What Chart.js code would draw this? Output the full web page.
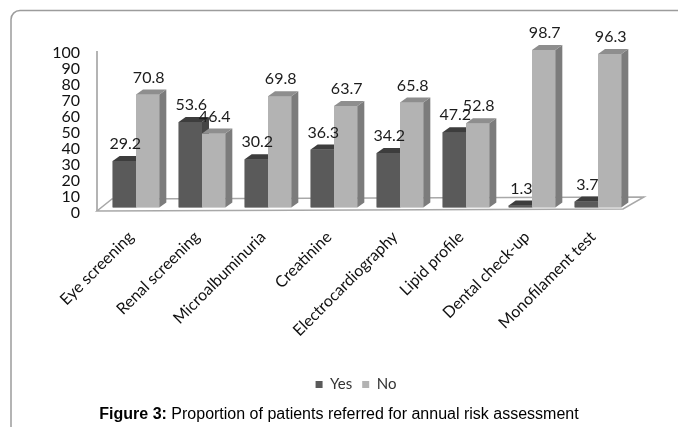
<!DOCTYPE html>
<html>
<head>
<meta charset="utf-8">
<script src="https://cdn.jsdelivr.net/npm/chart.js@4"></script>
<style>
  html, body { margin: 0; padding: 0; background: #fff; }
  #wrap { position: relative; width: 678px; height: 427px; overflow: hidden; }
  #chart { position: absolute; left: 0; top: 0; }
  #caption {
    position: absolute; left: 0; width: 678px; top: 405px;
    text-align: center; font-family: "Liberation Sans", Arial, sans-serif;
    font-size: 16px; color: #000; white-space: nowrap;
  }
</style>
</head>
<body>
<div id="wrap">
  <canvas id="chart" width="678" height="427"></canvas>
  <div id="caption"><b>Figure 3:</b> Proportion of patients referred for annual risk assessment</div>
</div>
<script>
// Annual risk assessment referrals (%)
const categories = ["Eye screening", "Renal screening", "Microalbuminuria", "Creatinine",
                    "Electrocardiography", "Lipid profile", "Dental check-up", "Monofilament test"];
const yesValues = [29.2, 53.6, 30.2, 36.3, 34.2, 47.2, 1.3, 3.7];
const noValues  = [70.8, 46.4, 69.8, 63.7, 65.8, 52.8, 98.7, 96.3];
const yTicks = [0, 10, 20, 30, 40, 50, 60, 70, 80, 90, 100];

// Column depth for the pseudo-3D faces
const DX = 7, DY = -5;
const faceColors = {
  Yes: { front: "#5a5a5a", top: "#3d3d3d", side: "#454545" },
  No:  { front: "#b3b3b3", top: "#8e8e8e", side: "#7c7c7c" }
};

// Rounded frame around the figure
const framePlugin = {
  id: "frame",
  beforeDraw(chart) {
    const ctx = chart.ctx;
    ctx.save();
    ctx.strokeStyle = "#9c9c9c";
    ctx.lineWidth = 1.5;
    ctx.beginPath();
    ctx.roundRect(11, 10.5, 720, 460, 9);
    ctx.stroke();
    ctx.restore();
  }
};

// Centre the legend under the plotted columns rather than the whole canvas
const legendShiftPlugin = {
  id: "legendShift",
  afterLayout(chart) {
    if (chart.legend) chart.legend.left += chart.chartArea.left - 32;
  }
};

// Back wall edge and floor slab
const floorPlugin = {
  id: "floor",
  beforeDatasetsDraw(chart) {
    const { ctx, chartArea: a } = chart;
    const y0 = chart.scales.y.getPixelForValue(0);
    const yTop = chart.scales.y.getPixelForValue(100);
    ctx.save();
    ctx.strokeStyle = "#b4b4b4";
    ctx.lineWidth = 2;
    ctx.beginPath();
    ctx.moveTo(a.left - 6, yTop + 3);
    ctx.lineTo(a.left - 6, y0 + 3.5);
    ctx.stroke();
    ctx.fillStyle = "#ffffff";
    ctx.strokeStyle = "#a8a8a8";
    ctx.lineWidth = 1.5;
    ctx.beginPath();
    ctx.moveTo(a.left - 6, y0 + 3.5);
    ctx.lineTo(a.right - 8, y0 + 1.5);
    ctx.lineTo(a.right + 13, y0 - 10.5);
    ctx.lineTo(a.left + 9, y0 - 8.5);
    ctx.closePath();
    ctx.fill();
    ctx.stroke();
    ctx.restore();
  }
};

// Columns drawn as boxes, category by category, left bar before right bar
const columnFacesPlugin = {
  id: "columnFaces",
  afterDatasetsDraw(chart) {
    const ctx = chart.ctx;
    const metas = chart.data.datasets.map((ds, i) => chart.getDatasetMeta(i));
    ctx.save();
    categories.forEach((c, j) => {
      metas.forEach((meta, i) => {
        const col = faceColors[chart.data.datasets[i].label];
        const { x, y, base, width } = meta.data[j].getProps(["x", "y", "base", "width"], true);
        const l = x - width / 2, r = x + width / 2;
        ctx.fillStyle = col.front;
        ctx.fillRect(l, y, width, base - y);
        ctx.fillStyle = col.side;
        ctx.beginPath();
        ctx.moveTo(r, y);
        ctx.lineTo(r + DX, y + DY);
        ctx.lineTo(r + DX, base + DY);
        ctx.lineTo(r, base);
        ctx.closePath();
        ctx.fill();
        ctx.fillStyle = col.top;
        ctx.beginPath();
        ctx.moveTo(l, y);
        ctx.lineTo(r, y);
        ctx.lineTo(r + DX, y + DY);
        ctx.lineTo(l + DX, y + DY);
        ctx.closePath();
        ctx.fill();
      });
    });
    ctx.restore();
  }
};

// Value labels above the columns
const valueLabelPlugin = {
  id: "valueLabels",
  afterDatasetsDraw(chart) {
    const ctx = chart.ctx;
    ctx.save();
    ctx.font = "16px Lato";
    ctx.fillStyle = "#1c1c1c";
    ctx.textAlign = "center";
    ctx.textBaseline = "middle";
    chart.data.datasets.forEach((ds, i) => {
      const meta = chart.getDatasetMeta(i);
      meta.data.forEach((bar, j) => {
        const { x, y } = bar.getProps(["x", "y"], true);
        ctx.fillText(ds.data[j].toFixed(1), x + 1, y - 17);
      });
    });
    ctx.restore();
  }
};

new Chart(document.getElementById("chart"), {
  type: "bar",
  data: {
    labels: categories,
    datasets: [
      { label: "Yes", data: yesValues, backgroundColor: faceColors.Yes.front },
      { label: "No",  data: noValues,  backgroundColor: faceColors.No.front }
    ]
  },
  options: {
    responsive: false,
    animation: false,
    events: [],
    categoryPercentage: 0.707,
    barPercentage: 1.0,
    layout: { padding: { left: 10, right: 47, top: 48, bottom: 25 } },
    scales: {
      x: {
        grid: { display: false, drawTicks: false },
        border: { display: false },
        ticks: {
          minRotation: 45, maxRotation: 45, padding: 20, labelOffset: -5, autoSkip: false,
          color: "#111", font: { family: "Lato", size: 16 }
        },
        afterFit(s) { s.height = 159.5; }
      },
      y: {
        min: 0, max: 100,
        afterBuildTicks(s) { s.ticks = yTicks.map(v => ({ value: v })); },
        grid: { display: false, drawTicks: false },
        border: { display: false },
        ticks: {
          padding: 23, labelOffset: 5, autoSkip: false,
          color: "#111", font: { family: "Lato", size: 16 }
        },
        afterFit(s) { s.width = 93; }
      }
    },
    plugins: {
      legend: {
        position: "bottom",
        labels: {
          boxWidth: 7, boxHeight: 7, padding: 10,
          color: "#333", font: { family: "Lato", size: 15 }
        }
      },
      tooltip: { enabled: false }
    }
  },
  plugins: [framePlugin, legendShiftPlugin, floorPlugin, columnFacesPlugin, valueLabelPlugin]
});
</script>
</body>
</html>
